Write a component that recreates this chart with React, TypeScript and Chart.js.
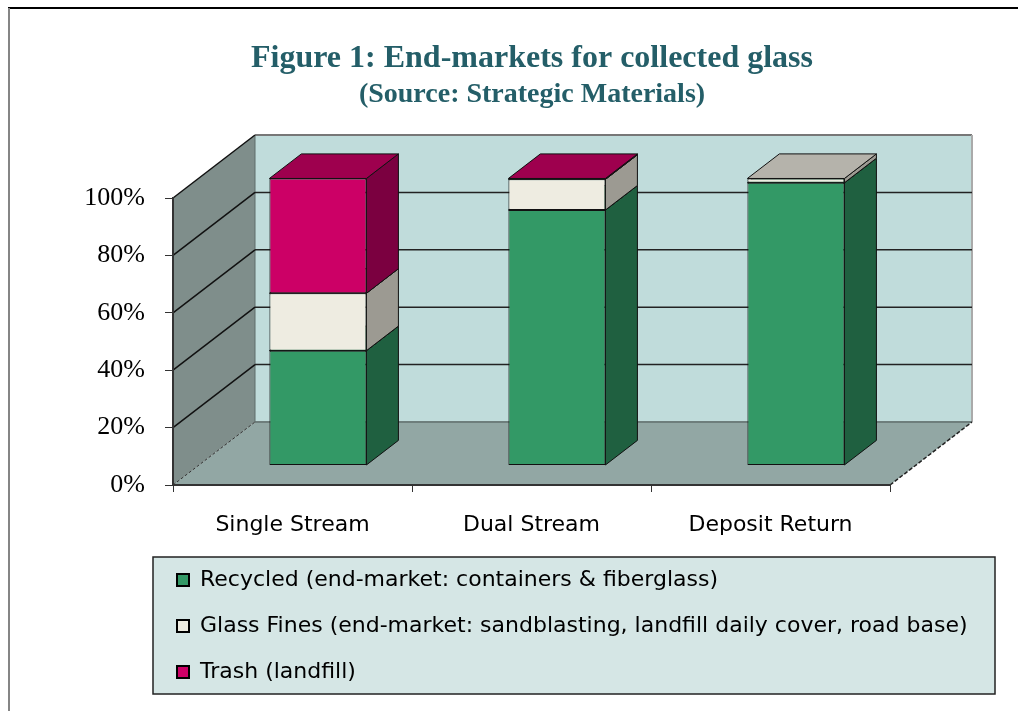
import React, { useEffect, useRef } from 'react';
import { Chart, registerables } from 'chart.js';

Chart.register(...registerables);

const categories = ['Single Stream', 'Dual Stream', 'Deposit Return'];
const recycled = [40, 89, 98.5];
const glassFines = [20, 10.7, 1.5];
const trash = [40, 0.3, 0];
const seriesNames = [
  'Recycled (end-market: containers & fiberglass)',
  'Glass Fines (end-market: sandblasting, landfill daily cover, road base)',
  'Trash (landfill)',
];
const yTicks = [0, 20, 40, 60, 80, 100];

const frontColors = ['#339966', '#EEECE1', '#CC0066'];
const sideColors = ['#1F6040', '#9C9A92', '#7B0040'];
const topColors = ['#2A7F55', '#B5B3AB', '#9E004E'];

const DX = 82;
const DY = -63;
const FRONT = 0.31;
const BACK = 0.7;
const LEGEND_LEFT = 153;
const LEGEND_WIDTH = 842;

function poly(ctx: CanvasRenderingContext2D, pts: number[][], fill?: string, stroke?: string, lw = 1) {
  ctx.beginPath();
  ctx.moveTo(pts[0][0], pts[0][1]);
  for (let i = 1; i < pts.length; i++) ctx.lineTo(pts[i][0], pts[i][1]);
  ctx.closePath();
  if (fill) {
    ctx.fillStyle = fill;
    ctx.fill();
  }
  if (stroke) {
    ctx.strokeStyle = stroke;
    ctx.lineWidth = lw;
    ctx.stroke();
  }
}

function line(ctx: CanvasRenderingContext2D, x1: number, y1: number, x2: number, y2: number, color: string, lw: number, dash: number[] = []) {
  ctx.beginPath();
  ctx.setLineDash(dash);
  ctx.moveTo(x1, y1);
  ctx.lineTo(x2, y2);
  ctx.strokeStyle = color;
  ctx.lineWidth = lw;
  ctx.stroke();
  ctx.setLineDash([]);
}

const threeD = {
  id: 'threeD',
  afterLayout(chart: any) {
    const lg = chart.legend;
    if (lg) {
      lg.left = LEGEND_LEFT;
      lg.right = LEGEND_LEFT + LEGEND_WIDTH;
      lg.width = LEGEND_WIDTH;
    }
  },
  beforeDraw(chart: any) {
    const { ctx, chartArea: a, scales } = chart;
    const y = scales.y;
    ctx.save();
    // page frame
    ctx.fillStyle = '#000';
    ctx.fillRect(8, 7, 1010, 2);
    ctx.fillStyle = '#858585';
    ctx.fillRect(8, 8, 2, 703);

    // legend box
    const lg = chart.legend;
    if (lg) {
      const top = lg.top + 12;
      const bottom = 694;
      ctx.fillStyle = '#D5E6E5';
      ctx.fillRect(lg.left, top, lg.width, bottom - top);
      ctx.strokeStyle = '#222';
      ctx.lineWidth = 1.5;
      ctx.strokeRect(lg.left, top, lg.width, bottom - top);
    }

    const L = a.left;
    const R = a.right;
    const B = y.getPixelForValue(0);
    const T = y.getPixelForValue(100);

    // floor
    poly(ctx, [[L, B], [R, B], [R + DX, B + DY], [L + DX, B + DY]], '#92A7A4');
    // left wall
    poly(ctx, [[L, B], [L, T], [L + DX, T + DY], [L + DX, B + DY]], '#7F8E8B');
    // back wall
    poly(ctx, [[L + DX, T + DY], [R + DX, T + DY], [R + DX, B + DY], [L + DX, B + DY]], '#C0DCDB');

    // back wall edges
    line(ctx, L + DX, T + DY, R + DX, T + DY, '#777', 2);
    line(ctx, R + DX, T + DY, R + DX, B + DY, '#AAA', 2);
    line(ctx, L + DX, B + DY, R + DX, B + DY, '#6E7E7C', 2);
    line(ctx, L + DX, T + DY, L + DX, B + DY, '#5E6C6A', 1);

    // gridlines
    yTicks.forEach((v) => {
      if (v === 0) return;
      const py = y.getPixelForValue(v);
      if (v < 100) line(ctx, L + DX, py + DY, R + DX, py + DY, '#222', 1.5);
      line(ctx, L, py, L + DX, py + DY, '#111', 1.5);
    });
    // floor edges (dashed)
    line(ctx, L, B, L + DX, B + DY, '#333', 1, [3, 2]);
    line(ctx, R, B, R + DX, B + DY, '#222', 1.5, [4, 2]);
    ctx.restore();
  },
  beforeDatasetsDraw(chart: any) {
    const { ctx } = chart;
    ctx.save();
    ctx.translate(DX * FRONT, DY * FRONT);
    const bdx = DX * (BACK - FRONT);
    const bdy = DY * (BACK - FRONT);
    const n = chart.data.labels.length;
    for (let j = 0; j < n; j++) {
      chart.data.datasets.forEach((ds: any, i: number) => {
        const val = ds.data[j];
        if (!(val > 0)) return;
        const el = chart.getDatasetMeta(i).data[j];
        const { x, y, base, width } = el.getProps(['x', 'y', 'base', 'width'], true);
        const x0 = x - width / 2;
        const x1 = x + width / 2;
        poly(ctx, [[x1, y], [x1 + bdx, y + bdy], [x1 + bdx, base + bdy], [x1, base]], sideColors[i], '#111', 1);
        poly(ctx, [[x0, y], [x1, y], [x1 + bdx, y + bdy], [x0 + bdx, y + bdy]], topColors[i], '#111', 1);
      });
    }
  },
  afterDatasetsDraw(chart: any) {
    chart.ctx.restore();
  },
};

export default function App() {
  const ref = useRef<HTMLCanvasElement | null>(null);
  useEffect(() => {
    if (!ref.current) return;
    Chart.defaults.font.family = 'DejaVu Sans';
    const values = [recycled, glassFines, trash];
    const chart = new Chart(ref.current, {
      type: 'bar',
      data: {
        labels: categories,
        datasets: values.map((d, i) => ({
          label: seriesNames[i],
          data: d,
          backgroundColor: frontColors[i],
          borderColor: '#111',
          borderWidth: 1,
          borderSkipped: false,
          categoryPercentage: 1,
          barPercentage: 0.406,
          clip: false as any,
        })),
      },
      options: {
        responsive: false,
        maintainAspectRatio: false,
        animation: false,
        layout: { padding: { left: 73, right: 27, top: 10, bottom: 18 } },
        plugins: {
          title: {
            display: true,
            text: 'Figure 1: End-markets for collected glass',
            color: '#245E68',
            font: { family: 'Liberation Serif', size: 32, weight: 'bold' },
            padding: { top: 29.8, bottom: 0 },
          },
          subtitle: {
            display: true,
            text: '(Source: Strategic Materials)',
            color: '#245E68',
            font: { family: 'Liberation Serif', size: 28, weight: 'bold' },
            padding: { top: 0, bottom: 86.2 },
          },
          legend: {
            display: true,
            position: 'bottom',
            align: 'start',
            labels: {
              boxWidth: 12,
              boxHeight: 12,
              padding: 24,
              color: '#000',
              font: { family: 'DejaVu Sans', size: 22 },
              generateLabels: (c: any) =>
                c.data.datasets.map((ds: any, i: number) => ({
                  text: ds.label,
                  fillStyle: ds.backgroundColor,
                  strokeStyle: '#000',
                  lineWidth: 2,
                  hidden: false,
                  datasetIndex: i,
                  fontColor: '#000',
                })),
            },
          },
          tooltip: { enabled: false },
        },
        scales: {
          x: {
            type: 'category',
            stacked: true,
            offset: true,
            grid: { offset: true, drawOnChartArea: false, drawTicks: true, tickLength: 7, color: '#333', lineWidth: 1 },
            border: { display: true, color: '#333', width: 2 },
            ticks: { color: '#000', font: { family: 'DejaVu Sans', size: 22 }, padding: 20, maxRotation: 0 },
            afterFit: (s: any) => {
              s.height = 60;
            },
          },
          y: {
            type: 'linear',
            stacked: true,
            position: 'left',
            min: 0,
            max: 100,
            grid: { drawOnChartArea: false, drawTicks: true, tickLength: 8, color: '#333' },
            border: { display: true, color: '#333', width: 2 },
            ticks: {
              color: '#000',
              font: { family: 'Liberation Serif', size: 26 },
              padding: 20,
              callback: (v: any) => v + '%',
            },
            afterBuildTicks: (s: any) => {
              s.ticks = yTicks.map((v) => ({ value: v }));
            },
            afterFit: (s: any) => {
              s.width = 100;
            },
          },
          yR: {
            type: 'linear',
            position: 'right',
            display: true,
            grid: { display: false },
            ticks: { display: false },
            border: { display: false },
            afterFit: (s: any) => {
              s.width = 101;
            },
          },
        },
      },
      plugins: [threeD],
    } as any);
    return () => chart.destroy();
  }, []);
  return (
    <div style={{ position: 'absolute', left: 0, top: 0, width: 1018, height: 711, overflow: 'hidden', background: '#fff' }}>
      <canvas ref={ref} width={1018} height={711} style={{ display: 'block' }} />
    </div>
  );
}
